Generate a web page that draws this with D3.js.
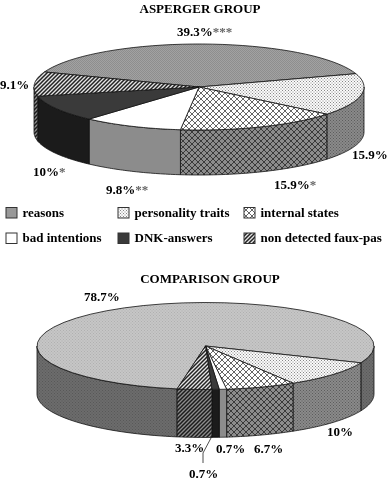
<!DOCTYPE html>
<html lang="en">
  <head>
    <meta charset="UTF-8" />
    <title>Faux-pas answers, pie charts</title>
    <script src="https://cdn.jsdelivr.net/npm/d3@7"></script>
    <style>
      html, body { margin: 0; padding: 0; background: #fff; }
      svg { display: block; filter: blur(0.25px); }
      text { font-family: "Liberation Serif", serif; font-weight: bold; fill: #000; }
    </style>
  </head>
  <body>
    <div id="chart"></div>
    <script>
      // data
      const categories = ["reasons", "personality traits", "internal states", "bad intentions", "DNK-answers", "non detected faux-pas"];
      const aspergerValues = [39.3, 15.9, 15.9, 9.8, 10, 9.1];
      const comparisonValues = [78.7, 10, 6.7, 0.7, 0.7, 3.3];
      const aspergerLabels = ["39.3%", "15.9%", "15.9%", "9.8%", "10%", "9.1%"];
      const aspergerStars = ["***", "", "*", "**", "*", ""];
      const comparisonLabels = ["78.7%", "10%", "6.7%", "0.7%", "0.7%", "3.3%"];

      const width = 388;
      const height = 482;

      const svg = d3.select("#chart").append("svg").attr("width", width).attr("height", height);
      const defs = svg.append("defs");

      function dither(id, bg, fg, size) {
        const p = defs.append("pattern").attr("id", id).attr("patternUnits", "userSpaceOnUse")
          .attr("width", size).attr("height", size);
        p.append("rect").attr("width", size).attr("height", size).attr("fill", bg);
        p.append("rect").attr("width", 1).attr("height", 1).attr("fill", fg);
        p.append("rect").attr("x", size / 2).attr("y", size / 2).attr("width", 1).attr("height", 1).attr("fill", fg);
      }
      function lattice(id, bg, fg) {
        const p = defs.append("pattern").attr("id", id).attr("patternUnits", "userSpaceOnUse")
          .attr("width", 6).attr("height", 6);
        p.append("rect").attr("width", 6).attr("height", 6).attr("fill", bg);
        p.append("path").attr("d", "M0,0L6,6M6,0L0,6").attr("stroke", fg).attr("stroke-width", 1);
      }
      function hatch(id, bg, fg) {
        const p = defs.append("pattern").attr("id", id).attr("patternUnits", "userSpaceOnUse")
          .attr("width", 4).attr("height", 4);
        p.append("rect").attr("width", 4).attr("height", 4).attr("fill", bg);
        p.append("path").attr("d", "M-1,1L1,-1M0,4L4,0M3,5L5,3").attr("stroke", fg).attr("stroke-width", 1.5);
      }

      dither("reasonsA", "#a2a2a2", "#8e8e8e", 2);
      dither("reasonsC", "#c6c6c6", "#b0b0b0", 3);
      dither("reasonsSideA", "#8e8e8e", "#7c7c7c", 2);
      dither("reasonsSideC", "#6c6c6c", "#585858", 3);
      dither("dots", "#fafafa", "#888", 3);
      dither("dotsSide", "#8a8a8a", "#5c5c5c", 3);
      lattice("cross", "#fff", "#666");
      lattice("crossSide", "#8c8c8c", "#3a3a3a");
      hatch("lines", "#e4e4e4", "#222");
      hatch("linesSide", "#8c8c8c", "#1c1c1c");

      const topFill = (g) => ["url(#reasons" + g + ")", "url(#dots)", "url(#cross)", "#fff", "#3a3a3a", "url(#lines)"];
      const sideFill = (g) => ["url(#reasonsSide" + g + ")", "url(#dotsSide)", "url(#crossSide)", "#8c8c8c", "#1b1b1b", "url(#linesSide)"];

      // pie with a tilted top, t is the pie angle in radians from 12 o'clock
      function drawPie(values, group, o) {
        const sx = d3.scaleLinear().domain([-1, 1]).range([o.cx - o.rx, o.cx + o.rx]);
        const sy = d3.scaleLinear().domain([-1, 1]).range([o.cy - o.ry, o.cy + o.ry]);
        const slices = d3.pie().sort(null).startAngle(o.start).endAngle(o.start + 2 * Math.PI)(values);
        const line = d3.line();
        const arcAngles = (a, b) => d3.range(0, 41).map((i) => a + ((b - a) * i) / 40);
        const g = svg.append("g").attr("stroke", "#111").attr("stroke-width", 0.8).attr("stroke-linejoin", "round");

        // side wall, only the front half of the rim can be seen
        const lo = Math.PI / 2;
        const hi = (3 * Math.PI) / 2;
        slices.forEach((s, i) => {
          [0, 2 * Math.PI, -2 * Math.PI].forEach((shift) => {
            const a = Math.max(s.startAngle + shift, lo);
            const b = Math.min(s.endAngle + shift, hi);
            if (b <= a) return;
            const rim = arcAngles(a, b).map((t) => [sx(Math.sin(t)), sy(-Math.cos(t))]);
            const low = rim.map((p) => [p[0], p[1] + o.depth]).reverse();
            g.append("path").attr("d", line(rim.concat(low)) + "Z").attr("fill", sideFill(group)[i]);
          });
        });

        // top face
        slices.forEach((s, i) => {
          const rim = arcAngles(s.startAngle, s.endAngle).map((t) => [sx(Math.sin(t)), sy(-Math.cos(t))]);
          g.append("path").attr("d", line([[sx(0), sy(0)]].concat(rim)) + "Z").attr("fill", topFill(group)[i]);
        });
      }

      drawPie(aspergerValues, "A", { cx: 199, cy: 87, rx: 165, ry: 43, depth: 45, start: (-69.5 * Math.PI) / 180 });
      drawPie(comparisonValues, "C", { cx: 205.5, cy: 346, rx: 168.5, ry: 43.5, depth: 48, start: (-170.3 * Math.PI) / 180 });

      function label(x, y, txt, stars, size) {
        const t = svg.append("text").attr("x", x).attr("y", y).attr("font-size", size || 13).text(txt);
        if (stars) t.append("tspan").attr("fill", "#666").text(stars);
        return t;
      }

      label(200, 13, "ASPERGER GROUP").attr("text-anchor", "middle");
      label(210, 283, "COMPARISON GROUP").attr("text-anchor", "middle");

      // asperger labels
      [[177, 36], [352, 159], [274, 189], [106, 194], [33, 176], [0, 89]].forEach((p, i) => {
        label(p[0], p[1], aspergerLabels[i], aspergerStars[i]);
      });

      // comparison labels
      [[84, 301], [327, 436], [254, 453], [216, 453], [189, 478], [175, 452]].forEach((p, i) => {
        label(p[0], p[1], comparisonLabels[i]);
      });

      // leader of the small slice
      svg.append("path")
        .attr("d", d3.line()([[211, 438], [203, 453], [203, 463]]))
        .attr("fill", "none").attr("stroke", "#222").attr("stroke-width", 0.8);

      // legend
      const legendFill = ["#999", "url(#dots)", "url(#cross)", "#fff", "#3a3a3a", "url(#lines)"];
      const legendX = d3.scaleOrdinal().domain([0, 1, 2]).range([6, 118, 244]);
      const legendY = d3.scaleOrdinal().domain([0, 1]).range([207.5, 233]);
      categories.forEach((c, i) => {
        const col = i % 3;
        const row = Math.floor(i / 3);
        svg.append("rect").attr("x", legendX(col)).attr("y", legendY(row)).attr("width", 11).attr("height", 10.5)
          .attr("fill", legendFill[i]).attr("stroke", "#333").attr("stroke-width", 1);
        label(legendX(col) + 16.5, legendY(row) + 9, c);
      });
    </script>
  </body>
</html>
